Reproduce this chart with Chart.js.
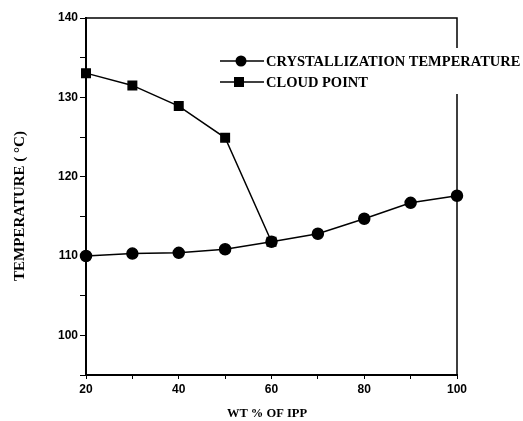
<!DOCTYPE html>
<html>
<head>
<meta charset="utf-8">
<script src="https://cdn.jsdelivr.net/npm/chart.js@4.4.1/dist/chart.umd.min.js"></script>
<style>
  html, body { margin: 0; padding: 0; background: #fff; }
  #wrap { width: 523px; height: 421px; position: relative; }
</style>
</head>
<body>
<div id="wrap"><canvas id="chart"></canvas></div>
<script>
// values
const ippPct = [20, 30, 40, 50, 60, 70, 80, 90, 100];
const crystTemp = [110, 110.3, 110.4, 110.85, 111.8, 112.8, 114.7, 116.7, 117.6];
const cloudPct = [20, 30, 40, 50, 60];
const cloudTemp = [133.05, 131.5, 128.9, 124.9, 111.8];
const seriesNames = ['CRYSTALLIZATION TEMPERATURE', 'CLOUD POINT'];
const xTicks = [20, 40, 60, 80, 100];
const yTicks = [100, 110, 120, 130, 140];
const xTitle = 'WT % OF IPP';
const yTitle = 'TEMPERATURE ( °C)';

const serif = '"Liberation Serif", "DejaVu Serif", serif';
const sans = '"Liberation Sans", Arial, sans-serif';

// box lines on top/right, axis titles and the legend over the right edge
const framePlugin = {
    id: 'frame',
    afterDraw(chart) {
        const { ctx, chartArea: a } = chart;
        ctx.save();
        ctx.strokeStyle = '#000';
        ctx.lineWidth = 1.5;
        ctx.beginPath();
        ctx.moveTo(a.left, a.top);
        ctx.lineTo(a.right, a.top);
        ctx.lineTo(a.right, a.bottom);
        ctx.stroke();

        ctx.fillStyle = '#000';
        ctx.textAlign = 'center';
        ctx.textBaseline = 'middle';
        ctx.font = 'bold 12.5px ' + serif;
        ctx.fillText(xTitle, 267, 414);
        ctx.save();
        ctx.translate(20, 206);
        ctx.rotate(-Math.PI / 2);
        ctx.font = 'bold 15px ' + serif;
        ctx.fillText(yTitle, 0, 0);
        ctx.restore();

        // legend
        ctx.fillStyle = '#fff';
        ctx.fillRect(264, 48, 259, 46);
        const rows = [61, 82];
        ctx.font = 'bold 14.5px ' + serif;
        ctx.textAlign = 'left';
        rows.forEach((y, i) => {
            ctx.strokeStyle = '#000';
            ctx.lineWidth = 1.5;
            ctx.beginPath();
            ctx.moveTo(220, y);
            ctx.lineTo(264, y);
            ctx.stroke();
            ctx.fillStyle = '#000';
            if (i === 0) {
                ctx.beginPath();
                ctx.arc(241, y, 5.5, 0, Math.PI * 2);
                ctx.fill();
            } else {
                ctx.fillRect(234, y - 5, 10, 10);
            }
            ctx.fillText(seriesNames[i], 266, y + 1);
        });
        ctx.restore();
    }
};

new Chart(document.getElementById('chart'), {
    type: 'line',
    data: {
        datasets: [
            {
                label: seriesNames[0],
                data: ippPct.map((x, i) => ({ x, y: crystTemp[i] })),
                borderColor: '#000',
                backgroundColor: '#000',
                borderWidth: 1.5,
                pointStyle: 'circle',
                pointRadius: 5.5,
                tension: 0,
                clip: false
            },
            {
                label: seriesNames[1],
                data: cloudPct.map((x, i) => ({ x, y: cloudTemp[i] })),
                borderColor: '#000',
                backgroundColor: '#000',
                borderWidth: 1.5,
                pointStyle: 'rect',
                pointRadius: 6,
                tension: 0,
                clip: false
            }
        ]
    },
    options: {
        responsive: true,
        maintainAspectRatio: false,
        animation: false,
        layout: { padding: { top: 18, right: 66, left: 0, bottom: 0 } },
        plugins: {
            legend: { display: false },
            tooltip: { enabled: false }
        },
        scales: {
            x: {
                type: 'linear',
                min: 20,
                max: 100,
                afterFit: s => { s.height = 46; },
                afterBuildTicks: s => { s.ticks = ippPct.map(v => ({ value: v })); },
                grid: { drawOnChartArea: false, color: '#000', tickLength: 4, tickWidth: 1 },
                border: { color: '#000', width: 2 },
                ticks: {
                    color: '#000',
                    padding: 3,
                    maxRotation: 0,
                    autoSkip: false,
                    font: { family: sans, size: 12, weight: 'bold' },
                    callback: v => xTicks.includes(v) ? String(v) : ''
                }
            },
            y: {
                min: 95,
                max: 140,
                afterFit: s => { s.width = 86; },
                ticks: {
                    stepSize: 5,
                    color: '#000',
                    padding: 2,
                    autoSkip: false,
                    font: { family: sans, size: 12, weight: 'bold' },
                    callback: v => yTicks.includes(v) ? String(v) : ''
                },
                grid: { drawOnChartArea: false, color: '#000', tickLength: 6, tickWidth: 1 },
                border: { color: '#000', width: 2 }
            }
        }
    },
    plugins: [framePlugin]
});
</script>
</body>
</html>
